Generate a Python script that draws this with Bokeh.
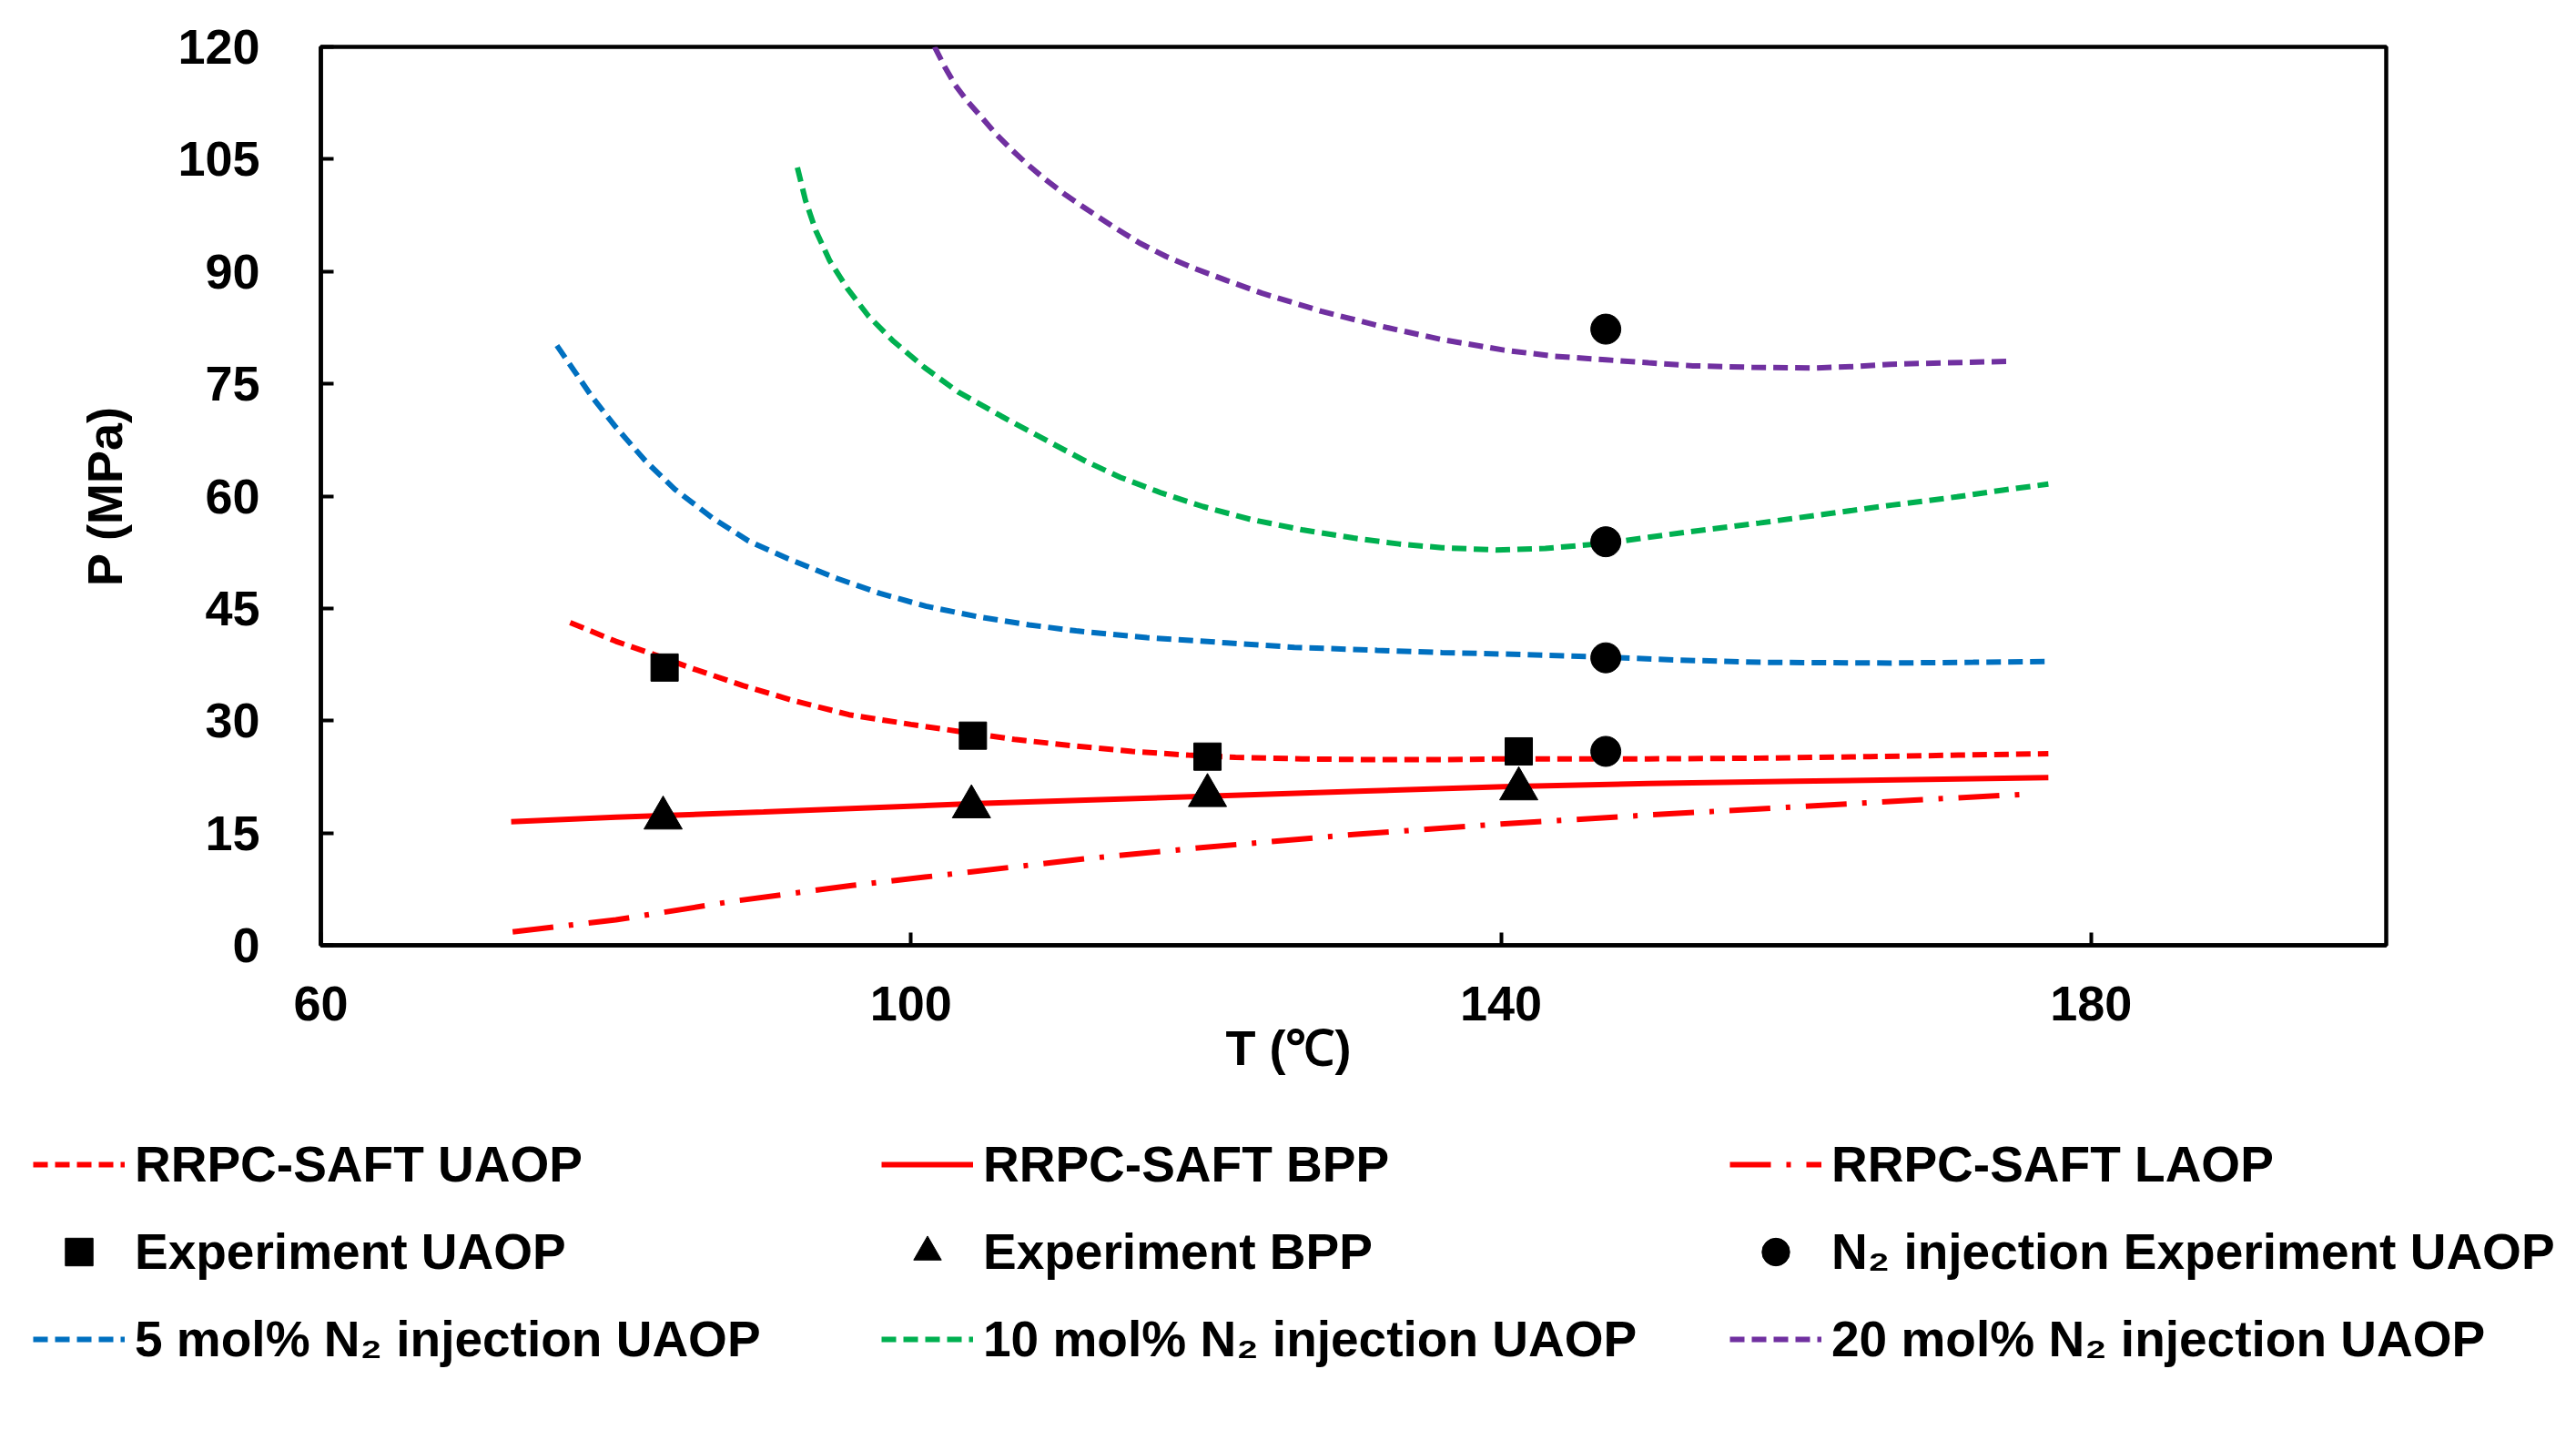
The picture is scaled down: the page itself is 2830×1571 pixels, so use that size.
from bokeh.plotting import figure
from bokeh.models import Range1d, FixedTicker, Legend, LegendItem, Title
from bokeh.embed import file_html
from bokeh.resources import INLINE

# ---------------- data ----------------
X_TICKS = [60, 100, 140, 180]
Y_TICKS = [0, 15, 30, 45, 60, 75, 90, 105, 120]

# RRPC-SAFT UAOP (red dashed)
uaop_T = [76.9, 80, 82.5, 85, 88.6, 92, 95.8, 100, 103.5, 107, 111.2, 115, 118.8, 122,
          126.5, 131, 136, 140.2, 145, 150, 157.5, 165, 171, 177.1]
uaop_P = [43.1, 40.6, 38.9, 37.1, 34.7, 32.7, 30.8, 29.5, 28.5, 27.5, 26.6, 25.9, 25.4, 25.1,
          24.9, 24.8, 24.8, 24.9, 24.9, 24.9, 25.0, 25.2, 25.4, 25.6]

# RRPC-SAFT BPP (red solid)
bpp_T = [72.9, 80, 90, 104, 120, 130.8, 140.2, 150, 160, 170, 177.1]
bpp_P = [16.5, 17.1, 17.8, 18.9, 19.9, 20.6, 21.2, 21.6, 21.9, 22.2, 22.4]

# RRPC-SAFT LAOP (red dash-dot)
laop_T = [73, 80, 88, 96, 104, 112, 120, 130, 140, 150, 160, 168, 175.8]
laop_P = [1.8, 3.4, 5.9, 8.0, 9.8, 11.6, 13.1, 14.8, 16.2, 17.4, 18.5, 19.4, 20.2]

# 5 mol% N2 injection UAOP (blue dashed)
n5_T = [76.0, 78.4, 80, 82.0, 84, 86.6, 89, 91.7, 95, 97.9, 101, 104.5, 108, 111.2, 116,
        121.4, 126, 131.6, 136, 140.2, 147.1, 152, 157.5, 166.4, 172, 177.3]
n5_P = [80.1, 73.2, 69.2, 64.7, 60.9, 57.0, 54.0, 51.6, 49.0, 47.0, 45.3, 43.9, 42.8, 42.0, 41.1,
        40.4, 39.8, 39.4, 39.1, 38.9, 38.5, 38.1, 37.8, 37.7, 37.8, 37.9]

# 10 mol% N2 injection UAOP (green dashed)
n10_T = [92.3, 92.85, 93.56, 94.5, 95.7, 97.1, 98.75, 100.9, 103.2, 106.1, 109.6, 111.9, 114.2,
         117, 119.8, 123, 126.5, 130, 133.1, 136, 139.7, 143, 147.1, 150, 153, 157.5, 162,
         166.5, 170.9, 174, 177.1]
n10_P = [103.9, 99.5, 95.4, 91.4, 87.7, 84.1, 80.8, 77.2, 73.9, 70.7, 67.0, 64.6, 62.5, 60.4,
         58.6, 56.9, 55.5, 54.4, 53.6, 53.1, 52.8, 53.0, 53.7, 54.5, 55.3, 56.4, 57.6,
         58.8, 59.9, 60.8, 61.6]

# 20 mol% N2 injection UAOP (purple dashed)
n20_T = [101.6, 102.3, 103.0, 103.8, 104.7, 105.7, 106.8, 107.9, 109.1, 110.5, 112.0, 113.7,
         115.5, 117.3, 119.1, 121.4, 123.8, 125.8, 127.8, 131.6, 136, 140.2, 143.5, 147.1,
         150, 153, 157, 161.1, 164, 166.4, 170, 174.6]
n20_P = [120.0, 117.3, 114.9, 112.8, 110.8, 108.5, 106.3, 104.3, 102.3, 100.2, 98.2, 96.0,
         93.8, 92.0, 90.5, 88.8, 87.1, 85.9, 84.7, 82.8, 80.9, 79.5, 78.7, 78.2,
         77.8, 77.4, 77.2, 77.1, 77.3, 77.6, 77.8, 78.0]

# Experiments
exp_uaop_T = [83.3, 104.2, 120.1, 141.2]
exp_uaop_P = [37.1, 28.0, 25.2, 25.9]
exp_bpp_T = [83.2, 104.1, 120.1, 141.2]
exp_bpp_P = [17.0, 18.5, 20.0, 20.9]
n2_exp_T = [147.1, 147.1, 147.1, 147.1]
n2_exp_P = [82.3, 53.9, 38.4, 25.9]

LABELS = [
    "RRPC-SAFT UAOP", "RRPC-SAFT BPP", "RRPC-SAFT LAOP",
    "Experiment UAOP", "Experiment BPP", "N\u2082 injection Experiment UAOP",
    "5 mol% N\u2082 injection UAOP", "10 mol% N\u2082 injection UAOP", "20 mol% N\u2082 injection UAOP",
]
X_TITLE = "T (\u2103)"
Y_TITLE = "P (MPa)"

# ---------------- styles ----------------
FONT = "Liberation Sans"
RED = "#FF0000"
BLUE = "#0070C0"
GREEN = "#00B050"
PURPLE = "#7030A0"
DASH = "16 8"
DASHDOT = "45 17 5 17"

line_styles = [
    dict(line_color=RED, line_width=6, line_dash=DASH),        # UAOP
    dict(line_color=RED, line_width=6),                         # BPP
    dict(line_color=RED, line_width=6, line_dash=DASHDOT),     # LAOP
    dict(line_color=BLUE, line_width=6, line_dash=DASH),       # 5 %
    dict(line_color=GREEN, line_width=6, line_dash=DASH),      # 10 %
    dict(line_color=PURPLE, line_width=6, line_dash=DASH),     # 20 %
]
marker_styles = [
    dict(marker="square", size=30, fill_color="black", line_color="black"),
    dict(marker="triangle", size=42, fill_color="black", line_color="black"),
    dict(marker="circle", size=33, fill_color="black", line_color="black"),
]

W = 2830
H1 = 1210
H2 = 1571 - H1

curves = [(uaop_T, uaop_P), (bpp_T, bpp_P), (laop_T, laop_P),
          (n5_T, n5_P), (n10_T, n10_P), (n20_T, n20_P)]
points = [(exp_uaop_T, exp_uaop_P), (exp_bpp_T, exp_bpp_P), (n2_exp_T, n2_exp_P)]

# ---------------- main chart ----------------
p = figure(width=W, height=H1, output_backend="svg", toolbar_location=None,
           x_range=Range1d(60, 200), y_range=Range1d(0, 120),
           min_border_left=352, min_border_right=209, min_border_top=51,
           min_border_bottom=H1 - 1038,
           background_fill_color="white", border_fill_color="white")

p.xgrid.visible = False
p.ygrid.visible = False
p.outline_line_color = "black"
p.outline_line_width = 4.5
p.outline_line_alpha = 1.0

for ax in (p.xaxis[0], p.yaxis[0]):
    ax.axis_line_color = "black"
    ax.axis_line_width = 4.5
    ax.major_tick_in = 14
    ax.major_tick_out = 0
    ax.major_tick_line_width = 4
    ax.major_tick_line_color = "black"
    ax.minor_tick_in = 0
    ax.minor_tick_out = 0
    ax.major_label_text_font = FONT
    ax.major_label_text_font_size = "54px"
    ax.major_label_text_font_style = "bold"
    ax.major_label_text_color = "black"

p.xaxis.ticker = FixedTicker(ticks=X_TICKS)
p.yaxis.ticker = FixedTicker(ticks=Y_TICKS)
p.xaxis.major_label_standoff = 45
p.yaxis.major_label_standoff = 67

p.yaxis.axis_label = Y_TITLE
p.yaxis.axis_label_text_font = FONT
p.yaxis.axis_label_text_font_size = "54px"
p.yaxis.axis_label_text_font_style = "bold"
p.yaxis.axis_label_text_color = "black"
p.yaxis.axis_label_standoff = 47

for (tx, py), st in zip(curves, line_styles):
    p.line(tx, py, **st)
for (tx, py), st in zip(points, marker_styles):
    p.scatter(tx, py, **st)

xtitle = Title(text=X_TITLE, align="left", offset=994, vertical_align="top", standoff=-6,
               text_font=FONT, text_font_size="54px", text_font_style="bold",
               text_color="black")
p.add_layout(xtitle, "below")

# ---------------- legend panel (separate canvas below the chart) ----------------
p2 = figure(width=W, height=H2, output_backend="svg", toolbar_location=None,
            x_range=Range1d(0, 1), y_range=Range1d(0, 1),
            x_axis_type=None, y_axis_type=None,
            min_border=0, min_border_left=0, min_border_right=0,
            min_border_top=0, min_border_bottom=0,
            outline_line_color=None,
            background_fill_color="white", border_fill_color="white")
p2.grid.visible = False

# same series, drawn outside this panel's (0..1) ranges so only their legend glyphs show
leg_lines = [p2.line(tx, py, **st) for (tx, py), st in zip(curves, line_styles)]
leg_marks = [p2.scatter(tx, py, **st) for (tx, py), st in zip(points, marker_styles)]
# order: row1 = model lines, row2 = experiments, row3 = N2 curves
leg_renderers = leg_lines[0:3] + leg_marks + leg_lines[3:6]
items = [LegendItem(label=lab, renderers=[r]) for lab, r in zip(LABELS, leg_renderers)]

legend = Legend(items=items, location=(36, 62), orientation="horizontal", ncols=3,
                glyph_width=101, glyph_height=76, label_height=76, label_width=800,
                label_standoff=11, spacing=20, padding=0, margin=0,
                border_line_color=None, background_fill_alpha=0,
                label_text_font=FONT, label_text_font_size="55px",
                label_text_font_style="bold", label_text_color="black")
p2.add_layout(legend, "center")

open("out.html", "w").write(file_html([p, p2], INLINE))
